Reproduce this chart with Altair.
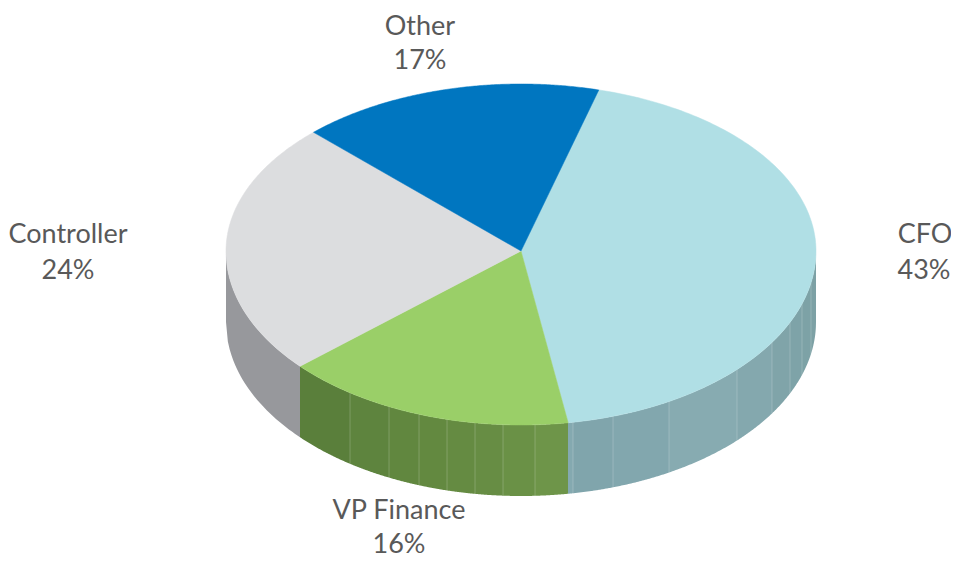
import math
import altair as alt
import pandas as pd

# values
categories = ["CFO", "VP Finance", "Controller", "Other"]
shares = [43, 16, 24, 17]
top_colors = ["#B0DFE5", "#9ACF68", "#DCDDDF", "#0076C0"]
# slice boundaries as drawn (degrees clockwise from the top of the tilted face)
boundaries_deg = [15.3, 170.8, 228.5, 315.3, 375.3]

# side wall bands: horizontal seam positions in page pixels and band shades
cfo_seams = [568, 573, 613, 669, 737, 772, 790, 802, 811, 816]
cfo_shades = ["#84A9B0", "#80A5AC", "#82A7AE", "#87ABB1", "#84A8AE", "#80A4A9", "#7EA3A8", "#7DA2A6", "#7DA1A5"]
vp_seams = [300, 350, 389, 419, 447, 475, 503, 535, 568]
vp_shades = ["#5A7F3B", "#5E843E", "#61873F", "#638940", "#658B42", "#678D44", "#6A9146", "#6E9549"]
ctrl_seams = [226, 300]
ctrl_shades = ["#97989C"]

label_lines = ["Other", "17%", "CFO", "43%", "Controller", "24%", "VP Finance", "16%"]
label_cx = [420, 420, 925, 924, 68, 68, 399, 399]
label_base = [35, 69, 243, 279, 243, 279, 519, 553]

CX, CY, RX, RY, RY_BACK, DEPTH = 521, 251, 295, 174, 167, 71
W, H = 943, 551
xs = alt.Scale(domain=[(8 - CX) / RX, (8 + W - CX) / RX], nice=False, zero=False)
ys = alt.Scale(domain=[(CY - 8 - H) / RY, (CY - 8) / RY], nice=False, zero=False)
X = lambda f="u": alt.X(f"{f}:Q", scale=xs, axis=None)
Y = lambda f="v": alt.Y(f"{f}:Q", scale=ys, axis=None)

layers = []

# side wall
d = DEPTH / RY
bands, seams = [], []
for ss, cc in [(ctrl_seams, ctrl_shades), (vp_seams, vp_shades), (cfo_seams, cfo_shades)]:
    for i, c in enumerate(cc):
        a, b = (ss[i] - CX) / RX, (ss[i + 1] - CX) / RX
        n = 40
        for k in range(n + 1):
            u = a + (b - a) * k / n
            t = -math.sqrt(max(0, 1 - u * u))
            bands.append(dict(band=f"{c}{ss[i]}", color=c, u=u, v=t, v2=t - d))
    for x in ss[1:-1]:
        u = (x - CX) / RX
        t = -math.sqrt(max(0, 1 - u * u))
        seams.append(dict(u=u, v=t, v2=t - d))
layers.append(
    alt.Chart(pd.DataFrame(bands)).mark_area(interpolate="linear", opacity=1).encode(
        x=X(), y=Y(), y2="v2:Q",
        color=alt.Color("color:N", scale=None),
        detail="band:N",
    )
)
layers.append(
    alt.Chart(pd.DataFrame(seams)).mark_rule(color="#FFFFFF", opacity=0.2, strokeWidth=1).encode(
        x=X(), y=Y(), y2="v2:Q"
    )
)

# top face wedges
for idx, (cat, col) in enumerate(zip(categories, top_colors)):
    a0, a1 = boundaries_deg[idx], boundaries_deg[idx + 1]
    rows = [dict(i=0, u=0.0, v=0.0)]
    n = 160
    for k in range(n + 1):
        a = math.radians(a0 + (a1 - a0) * k / n)
        c = math.cos(a)
        rows.append(dict(i=k + 1, u=math.sin(a), v=c * (RY_BACK / RY if c > 0 else 1)))
    rows.append(dict(i=n + 2, u=0.0, v=0.0))
    layers.append(
        alt.Chart(pd.DataFrame(rows)).mark_line(fill=col, stroke=col, strokeWidth=0.5, interpolate="linear").encode(
            x=X(), y=Y(), order="i:Q"
        )
    )

# labels
lab = pd.DataFrame(dict(
    t=label_lines,
    u=[(x - CX) / RX for x in label_cx],
    v=[(CY - y) / RY for y in label_base],
))
layers.append(
    alt.Chart(lab).mark_text(font="Lato", fontSize=27, color="#595959", align="center", baseline="alphabetic").encode(
        x=X(), y=Y(), text="t:N"
    )
)

chart = alt.layer(*layers).properties(
    width=W, height=H, padding=0, autosize=alt.AutoSizeParams(type="none")
).configure_view(stroke=None)

chart.save("out.html", embed_options={"renderer": "svg", "actions": False})
